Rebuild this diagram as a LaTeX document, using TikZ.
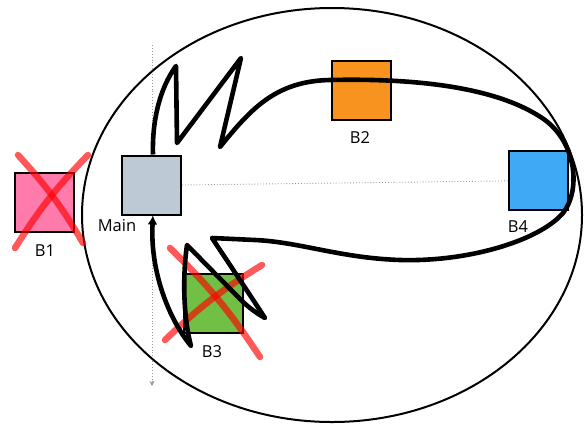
\documentclass[tikz,border=0pt]{standalone}
\usepackage{fontspec}
\setmainfont{Open Sans}
\usetikzlibrary{arrows.meta,backgrounds}

\definecolor{boxpink}{HTML}{FF7BAC}
\definecolor{boxgray}{HTML}{BDC9D4}
\definecolor{boxorange}{HTML}{F7931E}
\definecolor{boxgreen}{HTML}{71BF44}
\definecolor{boxblue}{HTML}{3FA9F5}

\begin{document}
\begin{tikzpicture}[x=1pt, y=-1pt, every node/.style={font=\fontsize{16.5}{19}\selectfont},
	box/.style={draw, line width=2pt, minimum size=59pt, inner sep=0pt},
	cross/.style={red, opacity=0.65, line width=6.5pt, line cap=round},
	route/.style={line width=4.6pt, line join=round},
	guide/.style={gray!80, dotted, line width=0.9pt},
	>={Latex[length=9pt,width=10pt]}]
	\useasboundingbox (0,0) rectangle (585,426);
	\draw[line width=2pt] (332,215) ellipse [x radius=250, y radius=207];
	% boxes and their names
	\node[box, fill=boxpink] (b1) at (44,202) {};
	\node[box, fill=boxgray] (main) at (151.5,185) {};
	\node[box, fill=boxorange] (b2) at (361,90.5) {};
	\node[box, fill=boxgreen] (b3) at (213,303.5) {};
	\node[box, fill=boxblue] (b4) at (538,180) {};
	\node (lb1) at (45,251) {B1};
	\node (lmain) at (117,226) {Main};
	\node (lb2) at (360,138) {B2};
	\node (lb3) at (212,352) {B3};
	\node (lb4) at (518,227) {B4};
	% dotted guides behind the boxes
	\coordinate (vtop) at (152,45);
	\coordinate (vbot) at (152,386);
	\begin{scope}[on background layer]
		\draw[guide] (main.east) -- ([xshift=8pt]b4.east);
		\draw[guide, -{Stealth[length=5pt,width=5pt]}] (vtop) -- (vbot);
	\end{scope}
	% crossed out boxes
	\draw[cross] (18,155) to[bend left=6] (83,243);
	\draw[cross] (88,155) to[bend right=6] (15,248);
	\draw[cross] (170,248) to[bend left=6] (260,357);
	\draw[cross] (262,265) to[bend right=6] (165,340);
	% the loop from Main round B4 and back
	\draw[route, ->] ([xshift=1.5pt]main.north) .. controls (152,120) and (160,88) .. (176,66)
		-- (177,143) -- (241,58) -- (220,147)
		.. controls (250,110) and (275,81) .. (330,80)
		.. controls (420,78) and (500,88) .. (545,120)
		.. controls (578,145) and (580,192) .. (563,213)
		.. controls (540,240) and (470,262) .. (400,260)
		.. controls (340,258) and (300,242) .. (255,240)
		-- (212,238)
		.. controls (232,268) and (252,298) .. (265,318)
		.. controls (256,313) and (248,307) .. (240,299)
		-- (187,245)
		.. controls (182,280) and (184,320) .. (191,346)
		.. controls (168,318) and (150,270) .. ([xshift=1.5pt]main.south);
\end{tikzpicture}
\end{document}
